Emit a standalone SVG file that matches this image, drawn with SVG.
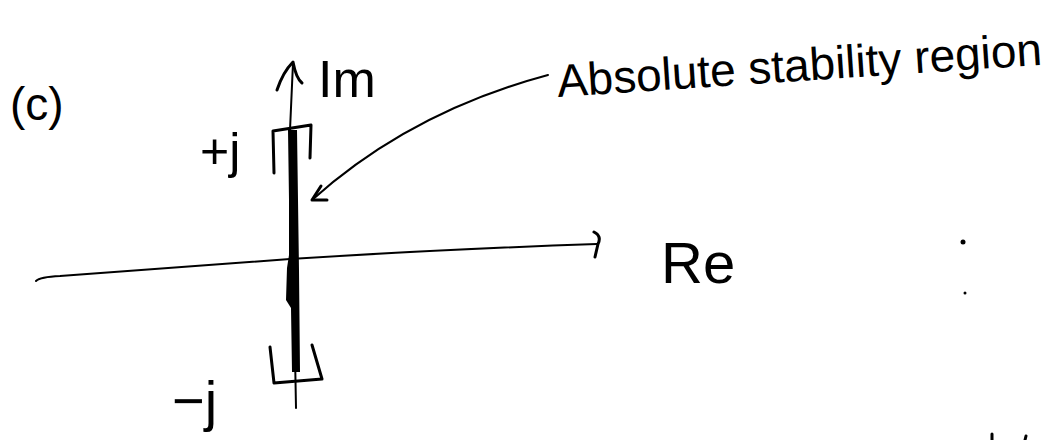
<svg xmlns="http://www.w3.org/2000/svg" width="1058" height="440" viewBox="0 0 1058 440">
  <style>
    .ink { fill: none; stroke: #000; stroke-width: 3; stroke-linecap: round; stroke-linejoin: round; }
    .thin { fill: none; stroke: #000; stroke-width: 2; stroke-linecap: round; stroke-linejoin: round; }
    .hand { font-family: "Liberation Sans", "DejaVu Sans", sans-serif; fill: #000; }
  </style>
  <rect width="1058" height="440" fill="#fff"/>

  <g id="label-c">
    <text class="hand" x="10" y="120" font-size="46">(c)</text>
  </g>

  <g id="connectors">
    <!-- imaginary axis -->
    <path class="thin" d="M293,63 L290,130 L294,300 L296,408"/>
    <path class="ink" d="M277,90 Q283,72 293,62 Q296,78 302,83"/>
    <!-- real axis -->
    <path class="thin" d="M36,281 Q40,277 60,276 L290,259 Q450,249 597,244"/>
    <path class="ink" d="M594,232 Q602,236 598,244 L595,257"/>
    <!-- annotation arrow -->
    <path class="thin" d="M548,75 Q410,112 312,200"/>
    <path class="ink" d="M327,200 L312,200 L321,186"/>
  </g>

  <g id="stability-region">
    <path d="M288,130 L297,130 L298,200 L299,270 L300,372 L292,372 L291,308 L286,300 L287,268 L289,255 L289,200 Z" fill="#000"/>
    <path class="ink" d="M274,173 L273,131 L311,125 L310,158"/>
    <path class="ink" d="M270,347 L274,383 L322,379 L312,345"/>
  </g>

  <g id="label-im">
    <text class="hand" x="318" y="97" font-size="52">Im</text>
  </g>
  <g id="label-plus-j">
    <text class="hand" x="200" y="168" font-size="50">+j</text>
  </g>
  <g id="label-minus-j">
    <text class="hand" x="172" y="420" font-size="56">−j</text>
  </g>
  <g id="label-re">
    <text class="hand" x="661" y="283" font-size="58">Re</text>
  </g>
  <g id="label-region">
    <text class="hand" x="558" y="97" font-size="46" transform="rotate(-3.8 558 97)">Absolute stability region</text>
  </g>

  <g id="marks">
    <circle cx="963" cy="242" r="2.5" fill="#000"/>
    <circle cx="965" cy="293" r="1.5" fill="#000"/>
    <path class="ink" d="M992,434 L992,440"/>
    <path class="ink" d="M1026,436 L1025,440"/>
  </g>
</svg>
